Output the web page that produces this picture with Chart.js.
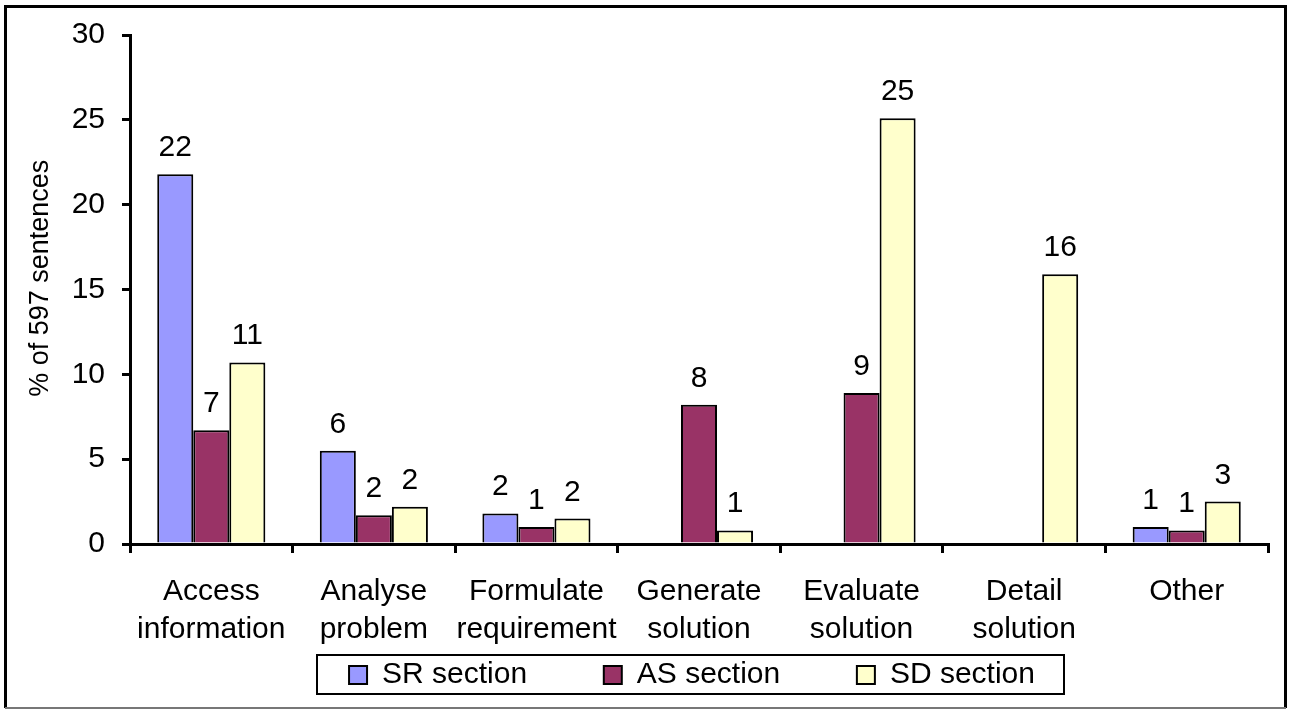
<!DOCTYPE html>
<html>
<head>
<meta charset="utf-8">
<script src="https://cdn.jsdelivr.net/npm/chart.js@4.4.1/dist/chart.umd.min.js"></script>
<style>
  html, body { margin: 0; padding: 0; background: #fff; }
  #wrap { width: 1291px; height: 709px; position: relative; }
</style>
</head>
<body>
<div id="wrap"><canvas id="myChart" width="1291" height="709"></canvas></div>
<script>
const categories = [
  ['Access', 'information'],
  ['Analyse', 'problem'],
  ['Formulate', 'requirement'],
  ['Generate', 'solution'],
  ['Evaluate', 'solution'],
  ['Detail', 'solution'],
  'Other'
];
const srValues = [21.8, 5.5, 1.8, null, null, null, 1.0];
const asValues = [6.7, 1.7, 1.0, 8.2, 8.9, null, 0.8];
const sdValues = [10.7, 2.2, 1.5, 0.8, 25.1, 15.9, 2.5];
const yTicks = [0, 5, 10, 15, 20, 25, 30];

const ctx = document.getElementById('myChart');
const FONT = 'Liberation Sans, Arial, sans-serif';
const GAP = '        '; // spacing between legend entries

// draws the rounded value above each bar
const barLabels = {
  id: 'barLabels',
  afterDatasetsDraw(chart) {
    const c = chart.ctx;
    c.save();
    c.font = '30px ' + FONT;
    c.fillStyle = '#000';
    c.textAlign = 'center';
    c.textBaseline = 'alphabetic';
    chart.data.datasets.forEach((ds, i) => {
      chart.getDatasetMeta(i).data.forEach((bar, j) => {
        const v = ds.data[j];
        if (v == null) return;
        c.fillText(Math.round(v), bar.x, bar.y - 18);
      });
    });
    c.restore();
  }
};

// move the legend under the plot, box round it, frame round the picture
const frames = {
  id: 'frames',
  afterLayout(chart) {
    chart.legend.left += 46;
    chart.legend.right += 46;
  },
  afterDraw(chart) {
    const c = chart.ctx;
    const lg = chart.legend;
    c.save();
    c.strokeStyle = '#000';
    c.lineWidth = 2;
    c.strokeRect(317, lg.top + 5, 747, 39);
    c.lineWidth = 3;
    c.beginPath();
    c.moveTo(5.5, 708);
    c.lineTo(5.5, 6.5);
    c.lineTo(1285.5, 6.5);
    c.lineTo(1285.5, 708);
    c.stroke();
    c.strokeStyle = '#777';
    c.lineWidth = 2;
    c.beginPath();
    c.moveTo(5, 708);
    c.lineTo(1286, 708);
    c.stroke();
    c.restore();
  }
};

new Chart(ctx, {
  type: 'bar',
  data: {
    labels: categories,
    datasets: [
      { label: 'SR section', data: srValues, backgroundColor: '#9999FF' },
      { label: 'AS section', data: asValues, backgroundColor: '#993366' },
      { label: 'SD section', data: sdValues, backgroundColor: '#FFFFCC' }
    ].map(d => Object.assign(d, { borderColor: '#000', borderWidth: 2, borderSkipped: 'bottom' }))
  },
  options: {
    responsive: false,
    animation: false,
    events: [],
    layout: { padding: { left: 24, right: 23, top: 33, bottom: 9 } },
    datasets: { bar: { categoryPercentage: 0.665, barPercentage: 1.0 } },
    plugins: {
      tooltip: { enabled: false },
      legend: {
        position: 'bottom',
        labels: {
          font: { family: FONT, size: 30 },
          color: '#000',
          boxWidth: 18,
          boxHeight: 18,
          padding: 10,
          generateLabels(chart) {
            const n = chart.data.datasets.length;
            return chart.data.datasets.map((ds, i) => ({
              text: ds.label + (i < n - 1 ? GAP : ''),
              fillStyle: ds.backgroundColor,
              strokeStyle: '#000',
              lineWidth: 2,
              datasetIndex: i
            }));
          }
        }
      }
    },
    scales: {
      x: {
        grid: { drawOnChartArea: false, color: '#000', lineWidth: 3, tickLength: 9, offset: true },
        border: { color: '#000', width: 3 },
        ticks: { color: '#000', font: { family: FONT, size: 30, lineHeight: 1.27 }, maxRotation: 0, autoSkip: false, padding: 20 },
        afterFit(scale) { scale.height = 106; }
      },
      y: {
        min: 0,
        max: 30,
        afterBuildTicks(scale) { scale.ticks = yTicks.map(v => ({ value: v })); },
        grid: { drawOnChartArea: false, color: '#000', lineWidth: 3, tickLength: 8 },
        border: { color: '#000', width: 3 },
        ticks: { color: '#000', font: { family: FONT, size: 30 }, padding: 17 },
        title: { display: true, text: '   % of 597 sentences', color: '#000', font: { family: FONT, size: 27 }, padding: 0 },
        afterFit(scale) { scale.width = 106; }
      }
    }
  },
  plugins: [barLabels, frames]
});
</script>
</body>
</html>
